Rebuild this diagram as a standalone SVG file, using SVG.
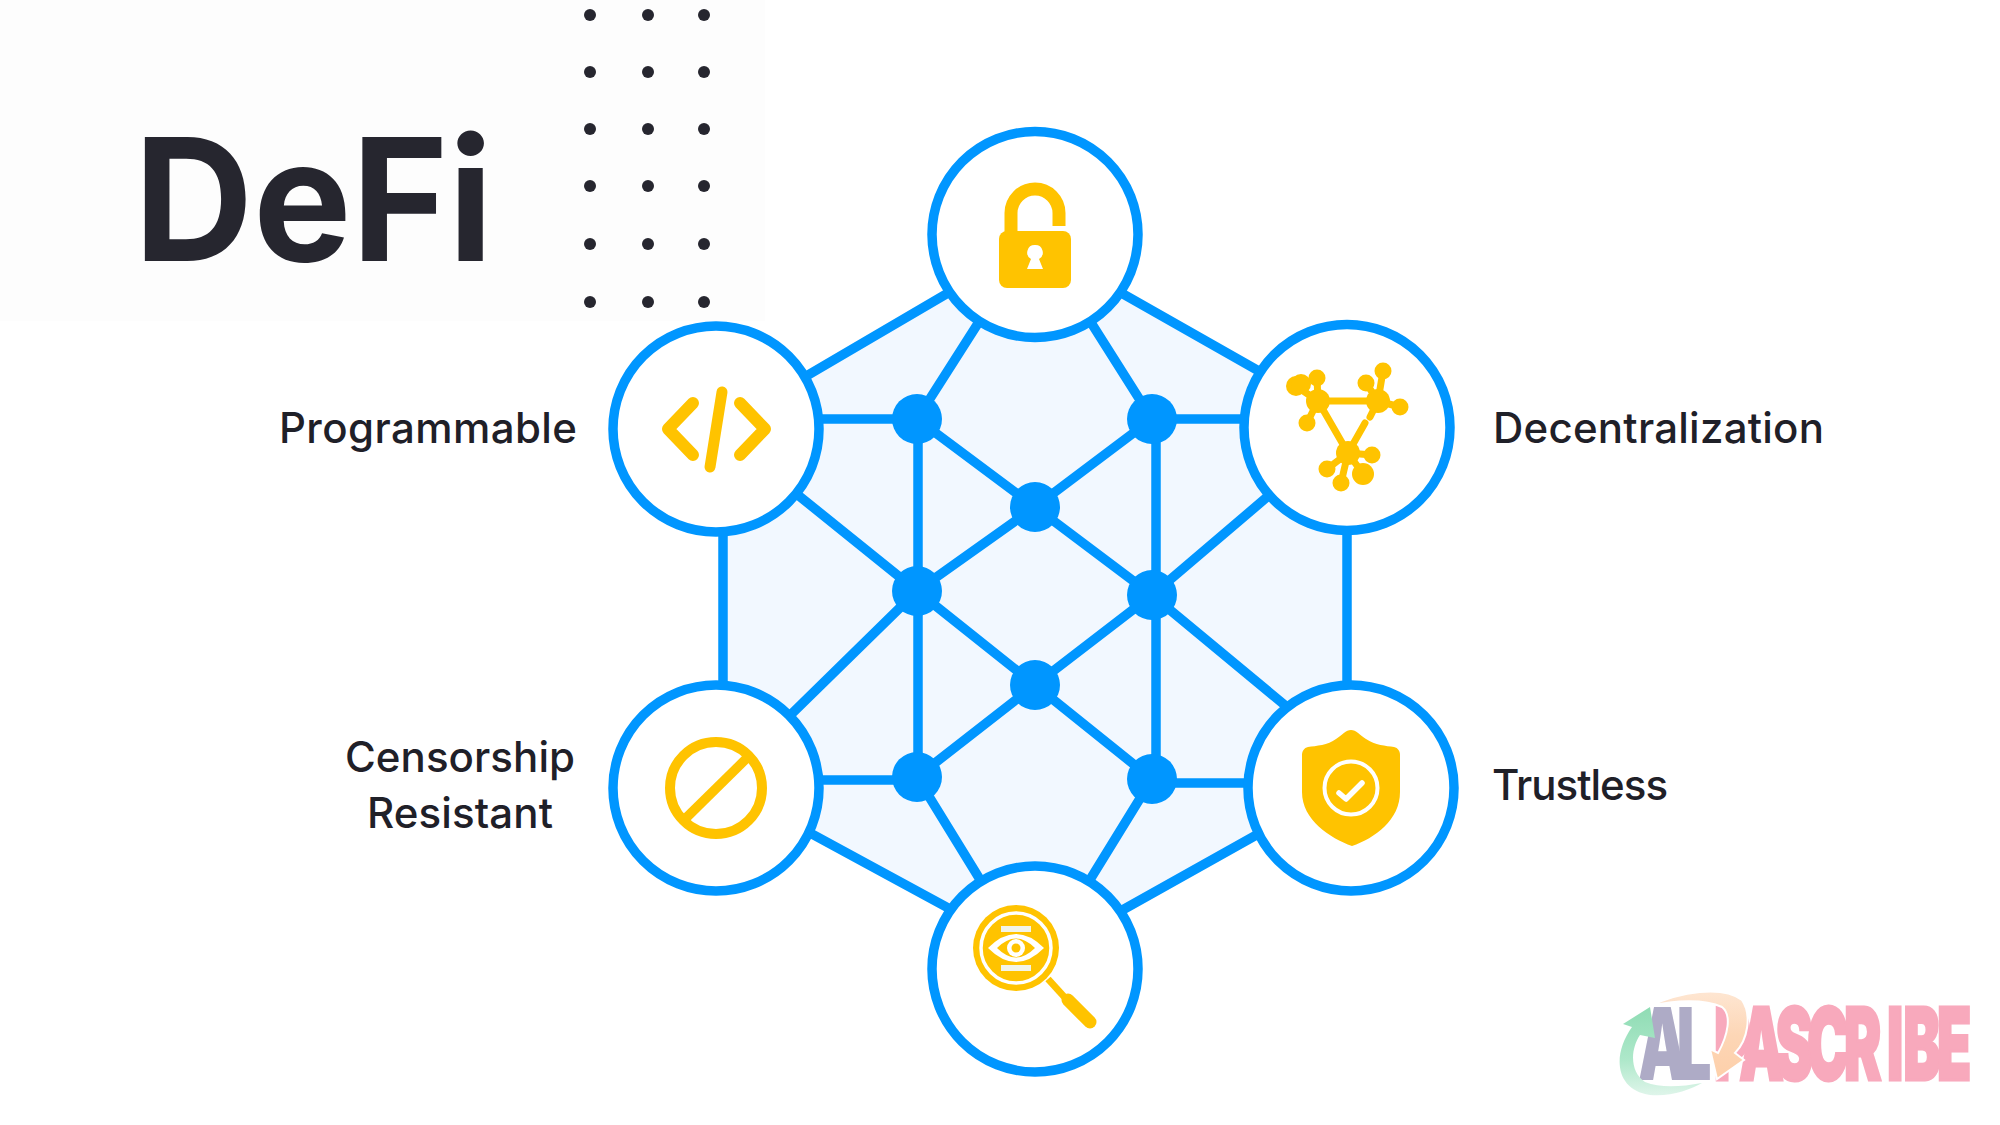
<svg xmlns="http://www.w3.org/2000/svg" width="2000" height="1125" viewBox="0 0 2000 1125">
<defs>
<linearGradient id="gG" x1="0" y1="0" x2="0" y2="1"><stop offset="0" stop-color="#8fdcb4"/><stop offset="0.6" stop-color="#aee8ca"/><stop offset="1" stop-color="#dff5ea"/></linearGradient>
<linearGradient id="gO" x1="0" y1="0" x2="0" y2="1"><stop offset="0" stop-color="#fee6d2"/><stop offset="0.5" stop-color="#fdd6b6"/><stop offset="1" stop-color="#fdcfa9"/></linearGradient>
</defs>
<style>
.lbl{font-family:"Inter","Liberation Sans",sans-serif;font-size:42px;font-weight:450;fill:#1f2028}
.ln{stroke:#0096ff;stroke-width:9.500;fill:none}
.c{fill:#fff;stroke:#0096ff;stroke-width:9.500}
.d{fill:#0096ff}
.dot{fill:#26262f}
.y{fill:#ffc300}
.ys{stroke:#ffc300;fill:none;stroke-linecap:round;stroke-linejoin:round}
.w{fill:#fff}
.wm{font-family:"Inter","Liberation Sans",sans-serif;font-weight:900;font-size:100px}
</style>
<rect width="2000" height="1125" fill="#fff"/>
<rect width="765" height="321" fill="#fdfdfd"/>
<text x="134" y="261" font-family="Inter,'Liberation Sans',sans-serif" font-weight="700" font-size="170" fill="#26262f" textLength="359" lengthAdjust="spacingAndGlyphs">DeFi</text>
<g id="dots" class="dot">
<ellipse cx="590" cy="15" rx="6" ry="6"/><ellipse cx="648" cy="15" rx="6" ry="6"/><ellipse cx="704" cy="15" rx="6" ry="6"/>
<ellipse cx="590" cy="72" rx="6" ry="6"/><ellipse cx="648" cy="72" rx="6" ry="6"/><ellipse cx="704" cy="72" rx="6" ry="6"/>
<ellipse cx="590" cy="129" rx="6" ry="6"/><ellipse cx="648" cy="129" rx="6" ry="6"/><ellipse cx="704" cy="129" rx="6" ry="6"/>
<ellipse cx="590" cy="186" rx="6" ry="6"/><ellipse cx="648" cy="186" rx="6" ry="6"/><ellipse cx="704" cy="186" rx="6" ry="6"/>
<ellipse cx="590" cy="244" rx="6" ry="6"/><ellipse cx="648" cy="244" rx="6" ry="6"/><ellipse cx="704" cy="244" rx="6" ry="6"/>
<ellipse cx="590" cy="302" rx="6" ry="6"/><ellipse cx="648" cy="302" rx="6" ry="6"/><ellipse cx="704" cy="302" rx="6" ry="6"/>
</g>
<polygon id="hex" points="1035,243 1347,421 1347,782 1035,957 723,782 723,425" fill="#f2f8ff"/>
<g id="connectors" class="ln">
<path d="M1035,242 L716,429 M1035,244 L1347,421 M723,420 V788 M1347,420 V788 M716,782 L1035,955 M1351,782 L1035,959"/>
<path d="M1035,234 L917,419 M1035,234 L1152,419 M716,419 H917 M1347,419 H1152 M918,419 V777 M1156,419 V779"/>
<path d="M917,419 L1035,507 L1152,595 L1351,760 M1152,419 L1035,507 L917,591 L716,788 M716,429 L917,591 L1035,685 L1152,779 M1347,429 L1152,595 L1035,685 L917,777"/>
<path d="M716,780 H917 M1351,783 H1152 M1035,969 L917,777 M1035,969 L1152,779"/>
</g>
<g id="hubs" class="d">
<circle cx="917" cy="419" r="25"/><circle cx="1152" cy="419" r="25"/><circle cx="1035" cy="507" r="25"/><circle cx="917" cy="591" r="25"/><circle cx="1152" cy="595" r="25"/><circle cx="1035" cy="685" r="25"/><circle cx="917" cy="777" r="25"/><circle cx="1152" cy="779" r="25"/>
</g>
<g id="node-lock">
<circle class="c" cx="1035" cy="234.500" r="103"/>
<path class="ys" stroke-width="13" style="stroke-linecap:butt" d="M1011,232 V213 A24,24 0 0 1 1059,213 V226"/>
<rect class="y" x="999" y="231" width="72" height="57" rx="8"/>
<path class="w" d="M1035,245 a7.500,7.500 0 0 1 4,14 l4,10 h-16 l4,-10 a7.500,7.500 0 0 1 4,-14z"/>
</g>
<g id="node-decentralization">
<circle class="c" cx="1347" cy="427.500" r="103"/>
<g class="ys" stroke-width="7">
<path d="M1318,401 H1378 M1318,401 L1348,453 M1365,423 L1348,453 M1378,401 L1370,417"/>
<path d="M1318,401 L1296,386 M1318,401 L1317,378 M1318,401 L1307,423 M1378,401 L1366,383 M1378,401 L1383,371 M1378,401 L1400,407 M1348,453 L1372,455 M1348,453 L1363,474 M1348,453 L1341,483 M1348,453 L1327,469"/>
</g>
<g class="y">
<circle cx="1318" cy="401" r="12"/><circle cx="1378" cy="401" r="12"/><circle cx="1348" cy="453" r="12"/>
<circle cx="1296" cy="386" r="10"/><circle cx="1301" cy="384" r="10"/><circle cx="1317" cy="378" r="8.500"/><circle cx="1307" cy="423" r="8.500"/><circle cx="1366" cy="383" r="8.500"/><circle cx="1383" cy="371" r="8.500"/><circle cx="1400" cy="407" r="8.500"/><circle cx="1372" cy="455" r="8.500"/><circle cx="1363" cy="474" r="11"/><circle cx="1341" cy="483" r="8.500"/><circle cx="1327" cy="469" r="8.500"/>
</g>
</g>
<g id="node-trustless">
<circle class="c" cx="1351" cy="788" r="103"/>
<path class="y" d="M1351,730 C1356,730 1360,735 1366,739 C1375,745 1386,746 1394,747 C1398,748 1400,751 1400,755 V792 C1400,820 1375,838 1352,846 C1330,838 1302,820 1302,792 V755 C1302,751 1304,748 1308,747 C1316,746 1328,745 1336,739 C1342,735 1346,730 1351,730Z"/>
<circle cx="1351" cy="788" r="26.500" fill="none" stroke="#fff" stroke-width="4"/>
<path d="M1339,793 L1346,799 L1362,783" fill="none" stroke="#fff" stroke-width="5.500" stroke-linecap="round" stroke-linejoin="round"/>
</g>
<g id="node-search">
<circle class="c" cx="1035" cy="969" r="103"/>
<circle class="y" cx="1016" cy="948" r="43"/>
<circle cx="1016" cy="948" r="35" fill="none" stroke="#fff" stroke-width="3.500"/>
<path class="w" d="M988,948 Q1016,920 1044,948 Q1016,976 988,948Z"/>
<path class="y" d="M997,948 Q1016,929 1035,948 Q1016,967 997,948Z"/>
<circle class="w" cx="1016" cy="948" r="9"/><circle class="y" cx="1016" cy="948" r="4.500"/>
<rect x="1001" y="926" width="30" height="6" fill="#f2f4e8"/><rect x="1001" y="965" width="30" height="6" fill="#f2f4e8"/>
<path class="ys" stroke-width="7" style="stroke-linecap:butt" d="M1048,979 L1068,1001"/>
<path class="ys" stroke-width="13" d="M1068,1000 L1090,1022"/>
</g>
<g id="node-censorship">
<circle class="c" cx="716" cy="788" r="103"/>
<circle cx="716" cy="788" r="46" fill="none" stroke="#ffc300" stroke-width="10"/>
<path d="M685,819 L748,757" stroke="#ffc300" stroke-width="9.500" fill="none"/>
</g>
<g id="node-programmable">
<circle class="c" cx="716" cy="429" r="103"/>
<path class="ys" stroke-width="12" d="M693,403 L668,429 L693,455 M740,403 L765,429 L740,455"/>
<path class="ys" stroke-width="11" d="M722,392 L710,467"/>
</g>
<text class="lbl" x="279" y="443" textLength="298">Programmable</text>
<text class="lbl" x="1493" y="443" textLength="331">Decentralization</text>
<text class="lbl" x="1492" y="800" textLength="176">Trustless</text>
<text class="lbl" x="345" y="772" textLength="230">Censorship</text>
<text class="lbl" x="367" y="828" textLength="186">Resistant</text>
<g id="watermark">
<text class="wm" transform="translate(1638,1080) scale(.62,1)" x="0 62" y="0" fill="#aeabc6">AL</text>
<text class="wm" transform="translate(1714,1080) scale(.56,1)" fill="#f8a9bc" stroke="#f8a9bc" stroke-width="3" x="0 45 110 166 232 309 338 398">PASCRIBE</text>
<path d="M1650,1007 L1623,1024 L1632,1027 C1612,1055 1615,1090 1650,1095 C1670,1097 1690,1090 1702,1083 C1680,1087 1660,1088 1645,1082 C1630,1072 1630,1050 1640,1035 L1655,1038Z" fill="url(#gG)"/>
<path d="M1650,1006 C1680,992 1722,985 1742,1000 C1752,1015 1748,1040 1735,1053 L1744,1060 L1717,1079 L1710,1049 L1718,1053 C1728,1035 1732,1015 1722,1007 C1705,999 1675,1000 1650,1006Z" fill="url(#gO)" stroke="#fff" stroke-width="2"/>
</g>
</svg>
